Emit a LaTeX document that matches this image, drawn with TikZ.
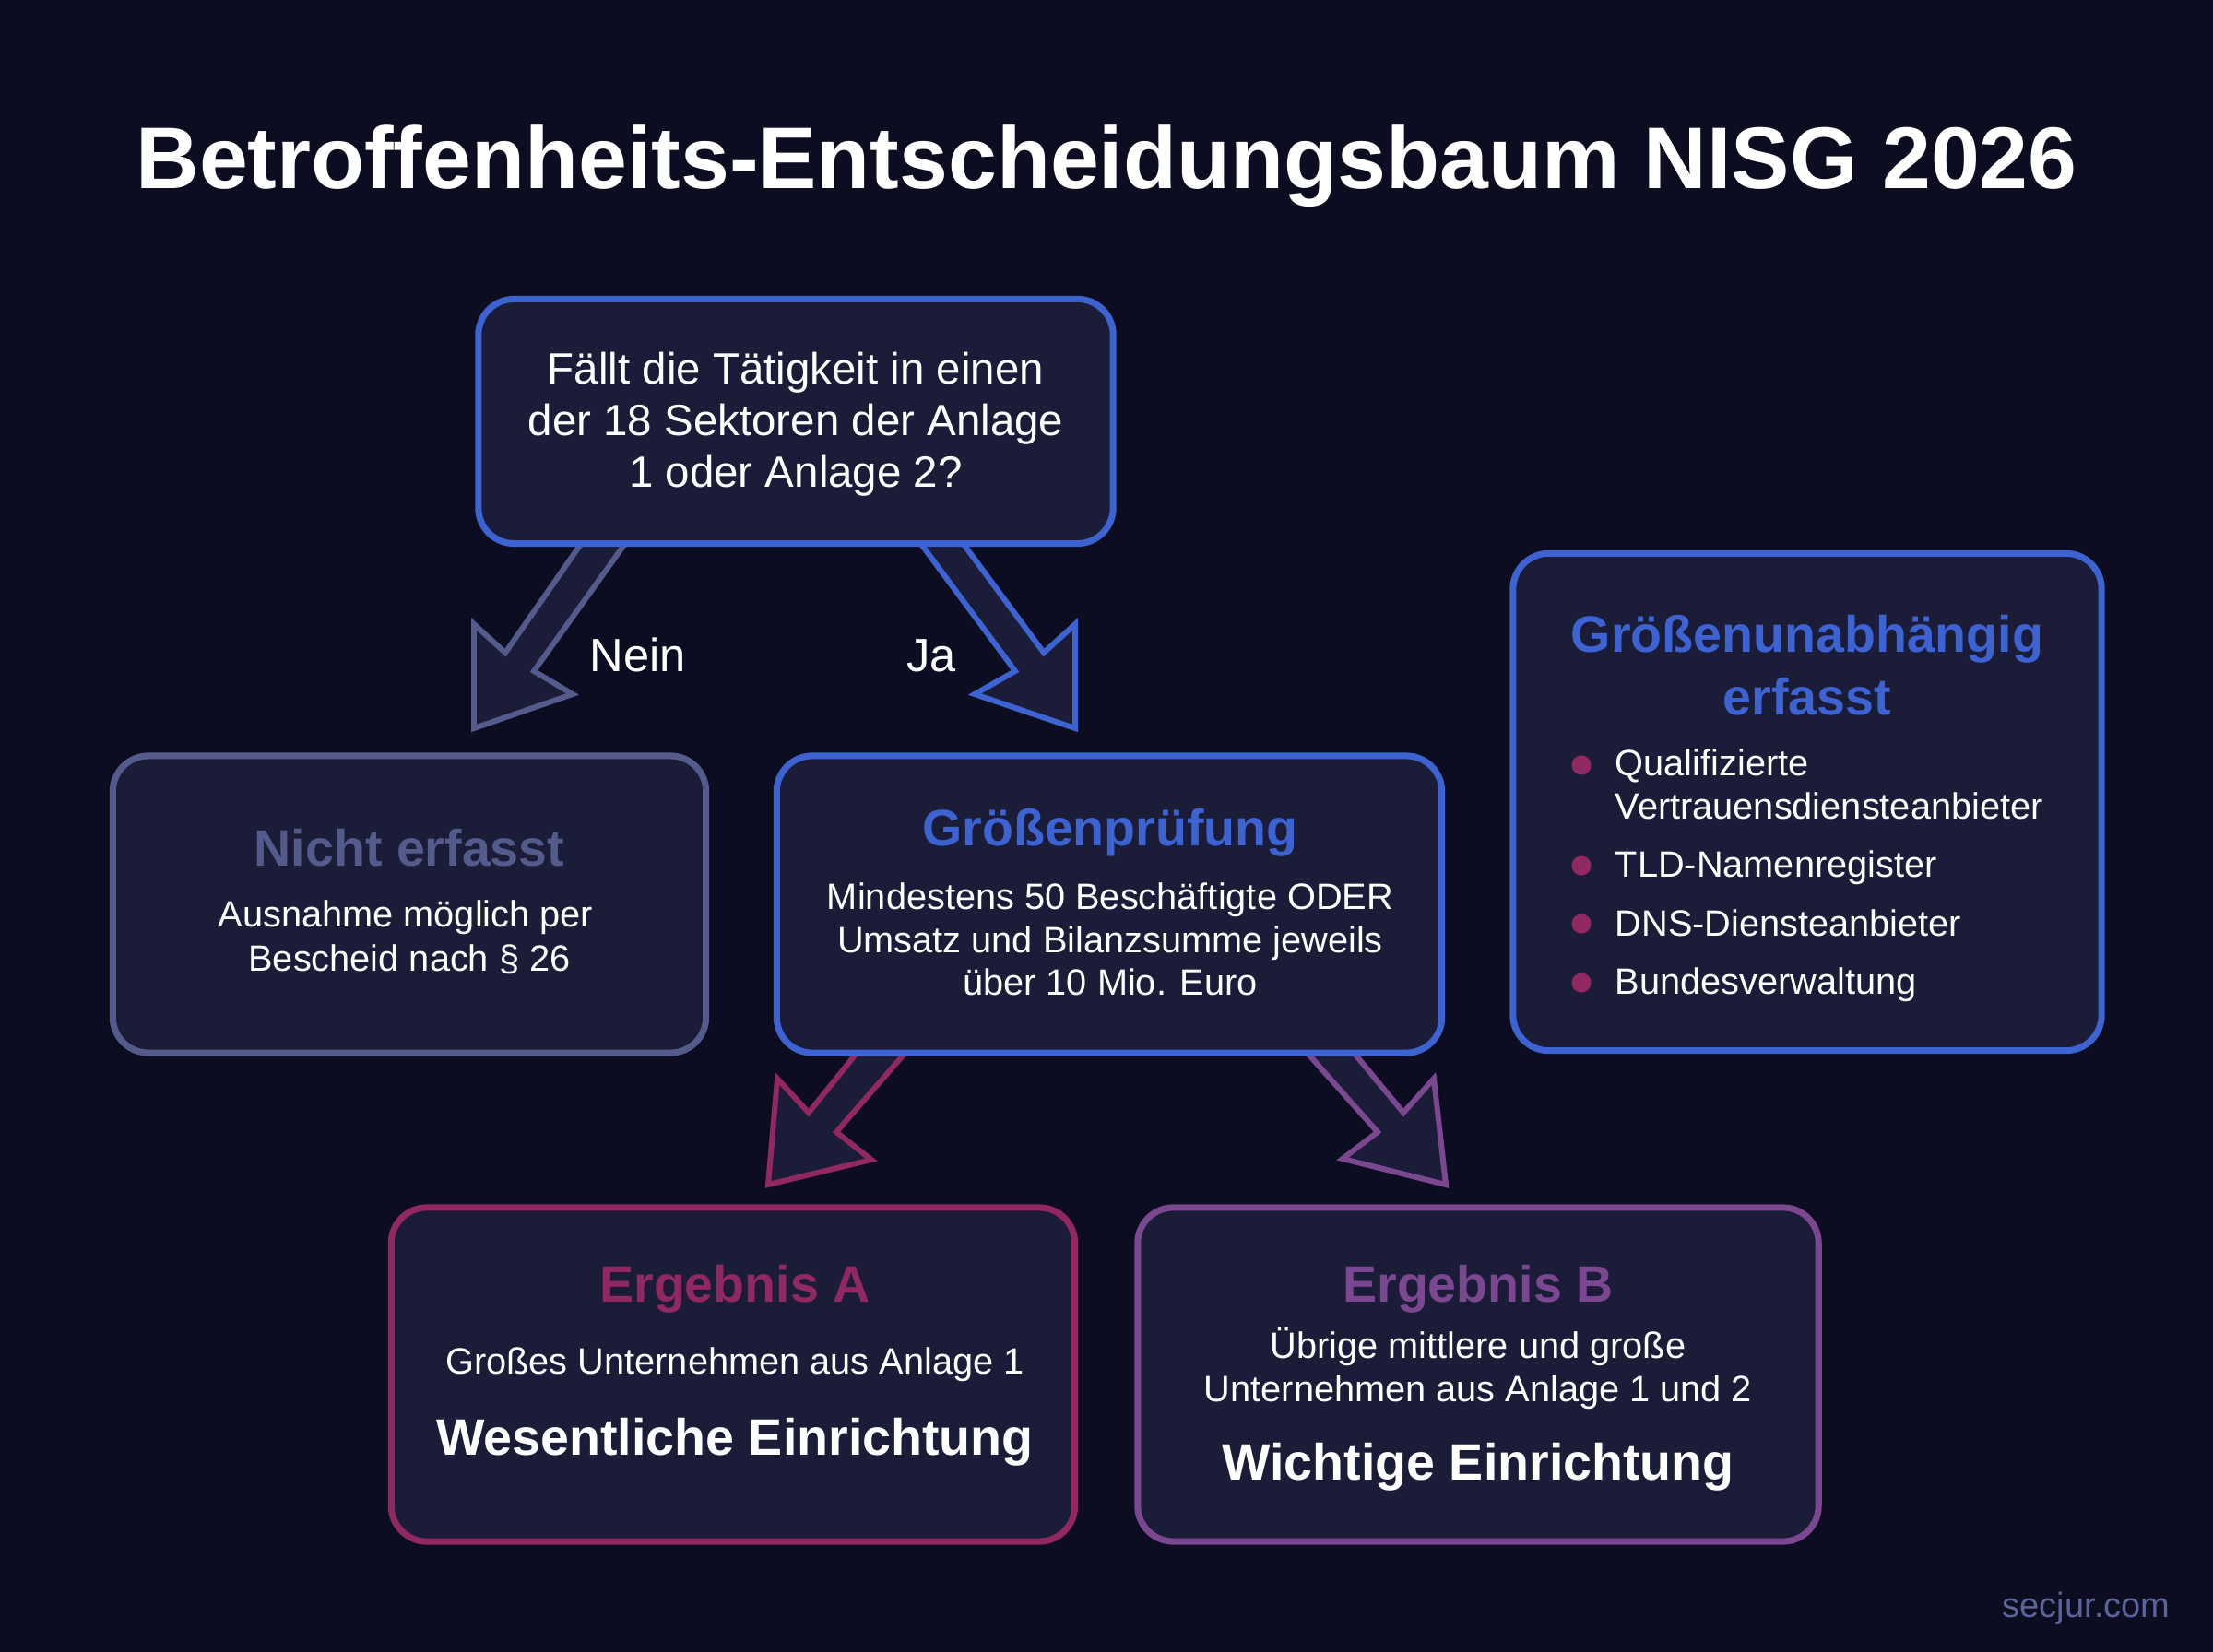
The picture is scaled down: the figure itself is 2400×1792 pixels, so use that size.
\documentclass[tikz,border=0pt]{standalone}
\usepackage{fontspec}
\setmainfont{Liberation Sans}
\usetikzlibrary{calc}
\definecolor{bg}{HTML}{0C0D20}
\definecolor{boxfill}{HTML}{1B1C38}
\definecolor{cblue}{HTML}{3D63D2}
\definecolor{cgray}{HTML}{535B8C}
\definecolor{cmag}{HTML}{922862}
\definecolor{cpurp}{HTML}{7B4790}
\definecolor{cfoot}{HTML}{5A6498}
\newcommand\fTitle{\fontsize{27}{32}\selectfont\bfseries}
\newcommand\fHead{\fontsize{15.8}{19}\selectfont\bfseries}
\newcommand\fBody{\fontsize{11.3}{13.5}\selectfont}
\newcommand\fQuest{\fontsize{13.5}{16.2}\selectfont}
\newcommand\fLab{\fontsize{14.4}{17}\selectfont}
\newcommand\fFoot{\fontsize{10.8}{13}\selectfont}
\begin{document}
\begin{tikzpicture}[x=0.01cm,y=-0.01cm,
  box/.style={draw, line width=2pt, rounded corners=11pt, fill=boxfill, inner sep=0pt},
  barrow/.style={fill=boxfill, line width=1.7pt, line join=miter},
  txt/.style={text=white, inner sep=0pt, anchor=base},
  bul/.style={text=white, inner sep=0pt, anchor=base west, font=\fBody},
  dot/.style={circle, fill=cmag, inner sep=0pt, minimum size=15\pgflinewidth}
]
% background
\fill[bg] (0,0) rectangle (2400,1792);
\useasboundingbox (0,0) rectangle (2400,1792);

% title
\node[txt, font=\fTitle] (title) at (1200,205) {Betroffenheits-Entscheidungsbaum NISG 2026};

% block arrows (drawn below boxes)
\draw[barrow, draw=cgray] (644,570) -- (548,708) -- (514,677) -- (514,790) -- (621,753) -- (579,728) -- (692,570) -- cycle;
\draw[barrow, draw=cblue] (984,570) -- (1101,728) -- (1057,753) -- (1166,790) -- (1166,677) -- (1132,708) -- (1030,570) -- cycle;
\draw[barrow, draw=cmag] (947,1120) -- (877,1207) -- (843,1170) -- (833,1285) -- (945,1258) -- (907,1228) -- (1001,1120) -- cycle;
\draw[barrow, draw=cpurp] (1398,1120) -- (1494,1228) -- (1456,1257) -- (1568,1285) -- (1555,1170) -- (1522,1207) -- (1450,1120) -- cycle;

% boxes
\node[box, draw=cblue, minimum width=6.88cm, minimum height=2.65cm] (q) at (863,457) {};
\node[box, draw=cgray, minimum width=6.43cm, minimum height=3.22cm] (nicht) at (444,981) {};
\node[box, draw=cblue, minimum width=7.21cm, minimum height=3.22cm] (gp) at (1203,981) {};
\node[box, draw=cblue, minimum width=6.38cm, minimum height=5.39cm] (gu) at (1960,870) {};
\node[box, draw=cmag, minimum width=7.41cm, minimum height=3.62cm] (ea) at (795,1491) {};
\node[box, draw=cpurp, minimum width=7.38cm, minimum height=3.62cm] (eb) at (1603,1491) {};

% question
\node[txt, font=\fQuest] (q1) at (863,417) {Fällt die Tätigkeit in einen};
\node[txt, font=\fQuest] (q2) at (863,473) {der 18 Sektoren der Anlage};
\node[txt, font=\fQuest] (q3) at (863,529) {1 oder Anlage 2?};

% labels
\node[txt, font=\fLab] (nein) at (692,729) {Nein};
\node[txt, font=\fLab] (ja) at (1010,729) {Ja};

% Nicht erfasst
\node[txt, font=\fHead, text=cgray] (n0) at (444,940) {Nicht erfasst};
\node[txt, font=\fBody] (n1) at (440,1005) {Ausnahme möglich per};
\node[txt, font=\fBody] (n2) at (444,1053) {Bescheid nach § 26};

% Groessenpruefung
\node[txt, font=\fHead, text=cblue] (g0) at (1204,918) {Größenprüfung};
\node[txt, font=\fBody] (g1) at (1204,986) {Mindestens 50 Beschäftigte ODER};
\node[txt, font=\fBody] (g2) at (1204,1033) {Umsatz und Bilanzsumme jeweils};
\node[txt, font=\fBody] (g3) at (1204,1080) {über 10 Mio. Euro};

% Groessenunabhaengig
\node[txt, font=\fHead, text=cblue] (u0) at (1960,708) {Größenunabhängig};
\node[txt, font=\fHead, text=cblue] (u1) at (1960,776) {erfasst};
\node[dot] (d1) at (1715,830) {};
\node[dot] (d2) at (1715,939) {};
\node[dot] (d3) at (1715,1002) {};
\node[dot] (d4) at (1715,1066) {};
\node[bul] (b1a) at (1751,842) {Qualifizierte};
\node[bul] (b1b) at (1751,889) {Vertrauensdiensteanbieter};
\node[bul] (b2) at (1751,952) {TLD-Namenregister};
\node[bul] (b3) at (1751,1015) {DNS-Diensteanbieter};
\node[bul] (b4) at (1751,1078) {Bundesverwaltung};

% Ergebnis A
\node[txt, font=\fHead, text=cmag] (a0) at (797,1412) {Ergebnis A};
\node[txt, font=\fBody] (a1) at (797,1490) {Großes Unternehmen aus Anlage 1};
\node[txt, font=\fHead] (a2) at (797,1578) {Wesentliche Einrichtung};

% Ergebnis B
\node[txt, font=\fHead, text=cpurp] (e0) at (1603,1412) {Ergebnis B};
\node[txt, font=\fBody] (e1) at (1603,1473) {Übrige mittlere und große};
\node[txt, font=\fBody] (e2) at (1603,1520) {Unternehmen aus Anlage 1 und 2};
\node[txt, font=\fHead] (e3) at (1603,1605) {Wichtige Einrichtung};

% footer
\node[txt, font=\fFoot, text=cfoot, anchor=base east] (foot) at (2354,1754) {secjur.com};
\end{tikzpicture}
\end{document}
